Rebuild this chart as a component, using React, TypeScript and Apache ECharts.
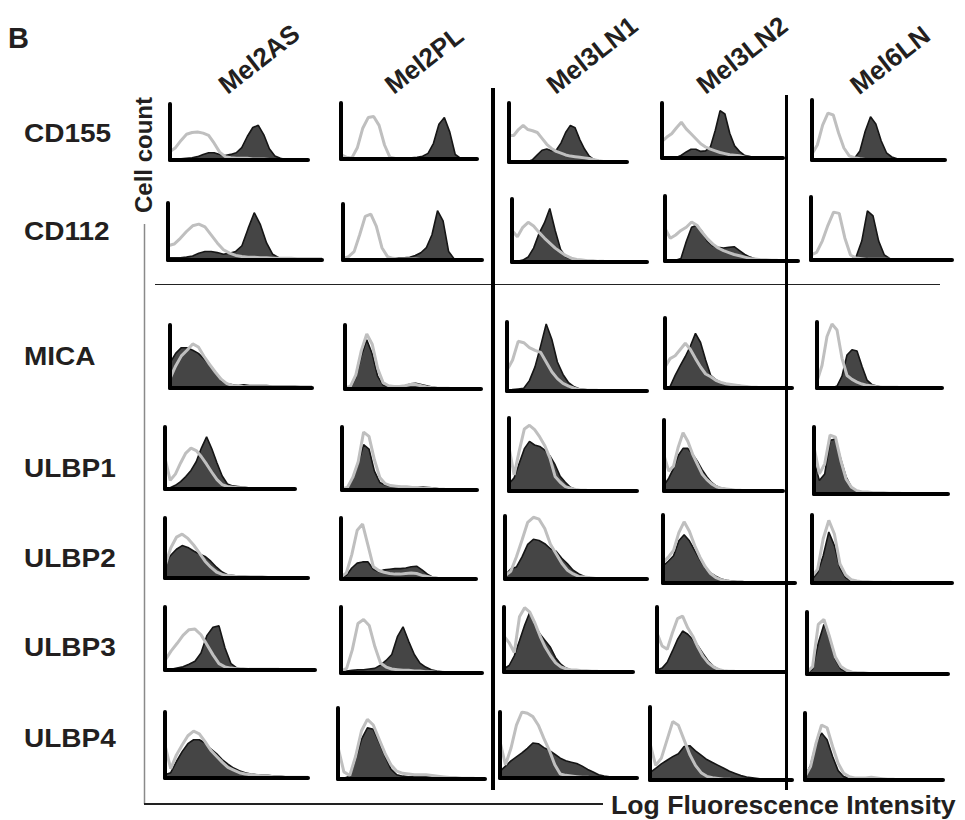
import React, { useEffect, useRef } from "react";
import * as echarts from "echarts";

// ---------- data ----------
const BINS = [0, 4, 8, 12, 16, 20, 24, 28, 32, 36, 40, 44, 48, 52, 56, 60, 64, 68, 72, 76, 80, 84, 88, 92, 96, 100];
const COLUMNS = ["Mel2AS", "Mel2PL", "Mel3LN1", "Mel3LN2", "Mel6LN"];
const MARKERS = ["CD155", "CD112", "MICA", "ULBP1", "ULBP2", "ULBP3", "ULBP4"];

// stained (filled) and isotype control (grey line) histograms, one per cell line
const CD155_FILL = [
  [2, 2, 2, 3, 4, 6, 10, 13, 13, 10, 8, 10, 13, 22, 42, 58, 62, 45, 20, 7, 3, 1, 0, 0, 0, 0],
  [0, 0, 0, 0, 0, 0, 0, 0, 0, 0, 0, 1, 1, 2, 3, 5, 10, 28, 62, 74, 48, 8, 1, 0, 0, 0],
  [0, 0, 0, 0, 1, 4, 12, 20, 22, 19, 20, 32, 50, 62, 58, 38, 22, 10, 4, 2, 1, 0, 0, 0, 0, 0],
  [0, 0, 0, 1, 5, 11, 16, 16, 12, 13, 20, 50, 86, 80, 45, 22, 12, 5, 3, 1, 0, 0, 0, 0, 0, 0],
  [0, 0, 0, 0, 0, 0, 0, 1, 3, 15, 48, 72, 60, 32, 12, 5, 2, 1, 0, 0, 0, 0, 0, 0, 0, 0],
];
const CD155_CTRL = [
  [15, 22, 35, 46, 49, 50, 48, 44, 30, 14, 6, 4, 3, 3, 3, 2, 2, 2, 1, 1, 0, 0, 0, 0, 0, 0],
  [8, 3, 2, 20, 55, 74, 76, 60, 25, 3, 1, 0, 0, 0, 0, 0, 0, 0, 0, 0, 0, 0, 0, 0, 0, 0],
  [45, 45, 55, 62, 55, 53, 50, 40, 30, 23, 18, 15, 12, 10, 9, 8, 7, 6, 4, 2, 1, 0, 0, 0, 0, 0],
  [30, 38, 44, 55, 65, 53, 44, 35, 26, 20, 16, 13, 10, 8, 6, 5, 4, 2, 1, 1, 0, 0, 0, 0, 0, 0],
  [10, 25, 58, 78, 75, 45, 20, 7, 4, 2, 1, 1, 1, 1, 1, 1, 0, 0, 0, 0, 0, 0, 0, 0, 0, 0],
];
const CD112_FILL = [
  [4, 4, 4, 5, 7, 12, 15, 15, 13, 10, 12, 15, 25, 55, 83, 62, 30, 10, 4, 2, 1, 1, 1, 0, 0, 0],
  [0, 0, 0, 0, 0, 0, 0, 0, 1, 3, 4, 4, 5, 8, 13, 22, 45, 88, 70, 15, 2, 0, 0, 0, 0, 0],
  [0, 1, 3, 8, 22, 45, 62, 85, 50, 20, 8, 5, 3, 2, 2, 1, 1, 0, 0, 0, 0, 0, 0, 0, 0, 0],
  [0, 0, 1, 4, 30, 52, 55, 45, 30, 23, 21, 20, 21, 22, 16, 10, 6, 3, 2, 1, 1, 1, 1, 0, 0, 0],
  [0, 0, 0, 0, 0, 0, 0, 1, 5, 30, 78, 70, 30, 8, 2, 1, 0, 0, 0, 0, 0, 0, 0, 0, 0, 0],
];
const CD112_CTRL = [
  [25, 28, 38, 50, 60, 63, 58, 44, 30, 18, 12, 8, 6, 5, 5, 4, 4, 3, 3, 3, 3, 2, 2, 2, 2, 2],
  [3, 6, 15, 45, 78, 82, 60, 22, 6, 3, 2, 2, 2, 2, 1, 1, 0, 0, 0, 0, 0, 0, 0, 0, 0, 0],
  [50, 40, 55, 63, 57, 47, 38, 30, 22, 16, 10, 6, 4, 3, 2, 2, 1, 1, 0, 0, 0, 0, 0, 0, 0, 0],
  [50, 35, 40, 47, 52, 60, 55, 44, 34, 26, 20, 16, 13, 10, 8, 6, 4, 3, 2, 2, 1, 1, 0, 0, 0, 0],
  [8, 12, 30, 55, 76, 74, 35, 8, 3, 2, 1, 1, 1, 1, 1, 0, 0, 0, 0, 0, 0, 0, 0, 0, 0, 0],
];
const MICA_FILL = [
  [40, 55, 64, 64, 60, 55, 46, 37, 24, 12, 7, 5, 4, 5, 4, 4, 4, 4, 3, 3, 3, 3, 3, 2, 2, 2],
  [1, 2, 18, 52, 77, 55, 20, 6, 4, 3, 4, 5, 8, 9, 7, 5, 3, 2, 1, 1, 0, 0, 0, 0, 0, 0],
  [0, 2, 3, 4, 15, 35, 65, 97, 75, 42, 24, 12, 6, 3, 2, 1, 1, 0, 0, 0, 0, 0, 0, 0, 0, 0],
  [0, 2, 18, 32, 45, 60, 78, 65, 40, 18, 12, 8, 6, 5, 4, 3, 2, 1, 0, 0, 0, 0, 0, 0, 0, 0],
  [0, 0, 0, 0, 3, 18, 50, 58, 56, 33, 12, 5, 3, 1, 1, 0, 0, 0, 0, 0, 0, 0, 0, 0, 0, 0],
];
const MICA_CTRL = [
  [15, 35, 51, 60, 70, 65, 50, 37, 25, 14, 7, 4, 3, 2, 2, 2, 2, 2, 2, 2, 2, 2, 2, 2, 2, 2],
  [2, 4, 22, 60, 86, 70, 32, 10, 5, 4, 4, 5, 7, 7, 5, 3, 2, 1, 1, 1, 0, 0, 0, 0, 0, 0],
  [30, 45, 72, 70, 63, 59, 56, 42, 28, 18, 11, 7, 4, 2, 1, 1, 1, 0, 0, 0, 0, 0, 0, 0, 0, 0],
  [30, 42, 46, 55, 64, 55, 42, 30, 20, 16, 11, 8, 6, 5, 4, 3, 2, 1, 1, 0, 0, 0, 0, 0, 0, 0],
  [10, 34, 78, 97, 88, 45, 19, 13, 9, 6, 4, 3, 2, 1, 1, 1, 1, 0, 0, 0, 0, 0, 0, 0, 0, 0],
];
const ULBP1_FILL = [
  [0, 2, 6, 12, 20, 30, 44, 66, 84, 65, 42, 21, 8, 5, 4, 3, 2, 2, 1, 1, 1, 0, 0, 0, 0, 0],
  [1, 3, 18, 42, 72, 65, 30, 12, 8, 6, 5, 5, 4, 4, 5, 5, 4, 3, 2, 2, 2, 1, 1, 0, 0, 0],
  [10, 18, 38, 58, 68, 63, 61, 56, 48, 36, 20, 12, 5, 2, 1, 0, 0, 0, 0, 0, 0, 0, 0, 0, 0, 0],
  [8, 18, 32, 50, 60, 60, 52, 42, 30, 20, 12, 7, 4, 3, 2, 1, 0, 0, 0, 0, 0, 0, 0, 0, 0, 0],
  [50, 20, 30, 80, 82, 52, 25, 10, 4, 2, 1, 1, 1, 0, 0, 0, 0, 0, 0, 0, 0, 0, 0, 0, 0, 0],
];
const ULBP1_CTRL = [
  [50, 14, 24, 42, 58, 66, 62, 52, 40, 27, 15, 7, 4, 3, 2, 2, 1, 1, 1, 0, 0, 0, 0, 0, 0, 0],
  [2, 4, 20, 45, 92, 85, 48, 20, 10, 7, 6, 5, 5, 4, 4, 3, 3, 2, 1, 1, 0, 0, 0, 0, 0, 0],
  [60, 22, 55, 85, 90, 84, 74, 62, 45, 20, 12, 6, 4, 2, 1, 1, 0, 0, 0, 0, 0, 0, 0, 0, 0, 0],
  [50, 28, 35, 62, 82, 70, 52, 38, 24, 16, 10, 6, 4, 3, 2, 1, 1, 0, 0, 0, 0, 0, 0, 0, 0, 0],
  [70, 30, 45, 88, 85, 50, 22, 10, 5, 3, 3, 2, 2, 2, 1, 1, 1, 0, 0, 0, 0, 0, 0, 0, 0, 0],
];
const ULBP2_FILL = [
  [25, 38, 48, 54, 51, 45, 40, 36, 28, 18, 10, 5, 4, 3, 3, 2, 2, 2, 2, 2, 2, 2, 2, 2, 2, 2],
  [2, 6, 18, 26, 28, 28, 16, 12, 15, 16, 17, 17, 18, 20, 21, 15, 8, 3, 2, 1, 1, 0, 0, 0, 0, 0],
  [5, 16, 19, 35, 55, 63, 61, 56, 48, 44, 33, 24, 14, 8, 4, 2, 1, 0, 0, 0, 0, 0, 0, 0, 0, 0],
  [25, 32, 40, 62, 71, 62, 48, 34, 22, 15, 10, 6, 4, 3, 2, 2, 1, 1, 0, 0, 0, 0, 0, 0, 0, 0],
  [5, 15, 40, 75, 55, 22, 8, 3, 2, 1, 1, 1, 0, 0, 0, 0, 0, 0, 0, 0, 0, 0, 0, 0, 0, 0],
];
const ULBP2_CTRL = [
  [20, 50, 68, 73, 66, 55, 42, 28, 18, 10, 6, 4, 3, 2, 2, 2, 2, 2, 1, 1, 1, 1, 1, 1, 1, 1],
  [3, 10, 40, 80, 90, 55, 20, 14, 11, 9, 8, 8, 9, 10, 9, 6, 4, 2, 1, 1, 0, 0, 0, 0, 0, 0],
  [5, 12, 35, 62, 90, 98, 95, 80, 55, 40, 25, 14, 8, 4, 3, 2, 1, 0, 0, 0, 0, 0, 0, 0, 0, 0],
  [30, 38, 48, 74, 90, 76, 55, 38, 24, 14, 8, 5, 3, 2, 1, 1, 0, 0, 0, 0, 0, 0, 0, 0, 0, 0],
  [10, 20, 65, 92, 72, 28, 12, 5, 3, 2, 2, 1, 1, 1, 1, 0, 0, 0, 0, 0, 0, 0, 0, 0, 0, 0],
];
const ULBP3_FILL = [
  [0, 1, 3, 5, 9, 14, 27, 55, 68, 70, 35, 10, 3, 1, 0, 0, 0, 0, 0, 0, 0, 0, 0, 0, 0, 0],
  [1, 3, 4, 5, 5, 6, 7, 12, 19, 28, 55, 70, 48, 28, 15, 9, 5, 3, 2, 1, 0, 0, 0, 0, 0, 0],
  [5, 10, 25, 48, 72, 92, 72, 58, 48, 38, 22, 12, 6, 3, 2, 1, 1, 0, 0, 0, 0, 0, 0, 0, 0, 0],
  [3, 6, 15, 32, 50, 63, 58, 50, 40, 28, 17, 9, 4, 2, 1, 0, 0, 0, 0, 0, 0, 0, 0, 0, 0, 0],
  [2, 8, 50, 80, 58, 24, 8, 3, 1, 1, 0, 0, 0, 0, 0, 0, 0, 0, 0, 0, 0, 0, 0, 0, 0, 0],
];
const ULBP3_CTRL = [
  [15, 30, 42, 55, 64, 65, 56, 40, 24, 10, 5, 3, 2, 2, 1, 1, 1, 1, 1, 1, 0, 0, 0, 0, 0, 0],
  [3, 7, 35, 75, 81, 72, 40, 15, 9, 6, 5, 4, 4, 3, 3, 2, 2, 1, 1, 0, 0, 0, 0, 0, 0, 0],
  [55, 45, 30, 85, 99, 92, 75, 55, 38, 25, 14, 8, 5, 3, 3, 2, 2, 1, 1, 0, 0, 0, 0, 0, 0, 0],
  [60, 40, 35, 60, 82, 86, 68, 55, 38, 24, 14, 8, 4, 2, 1, 1, 0, 0, 0, 0, 0, 0, 0, 0, 0, 0],
  [3, 12, 80, 88, 60, 28, 12, 6, 3, 2, 2, 1, 1, 1, 0, 0, 0, 0, 0, 0, 0, 0, 0, 0, 0, 0],
];
const ULBP4_FILL = [
  [5, 8, 25, 40, 52, 58, 58, 53, 44, 37, 28, 21, 15, 11, 8, 6, 5, 4, 4, 3, 3, 2, 2, 1, 1, 1],
  [0, 1, 4, 28, 56, 72, 70, 52, 32, 14, 6, 4, 3, 3, 3, 3, 3, 2, 1, 1, 1, 0, 0, 0, 0, 0],
  [10, 18, 26, 32, 38, 45, 53, 52, 46, 42, 36, 30, 26, 24, 22, 18, 13, 9, 5, 3, 2, 1, 1, 0, 0, 0],
  [10, 16, 22, 27, 32, 36, 46, 47, 40, 34, 28, 24, 20, 16, 12, 9, 6, 4, 3, 2, 1, 1, 0, 0, 0, 0],
  [5, 22, 55, 70, 60, 35, 14, 5, 3, 2, 2, 2, 3, 3, 1, 1, 0, 0, 0, 0, 0, 0, 0, 0, 0, 0],
];
const ULBP4_CTRL = [
  [50, 14, 35, 50, 64, 71, 67, 55, 42, 33, 24, 16, 12, 8, 6, 5, 4, 3, 3, 2, 2, 1, 1, 1, 1, 1],
  [45, 10, 5, 32, 68, 84, 76, 56, 36, 20, 11, 8, 7, 6, 6, 6, 5, 4, 3, 2, 2, 1, 1, 1, 0, 0],
  [55, 20, 45, 80, 100, 98, 93, 80, 60, 42, 20, 6, 4, 3, 2, 1, 1, 0, 0, 0, 0, 0, 0, 0, 0, 0],
  [50, 20, 30, 55, 80, 75, 55, 35, 20, 10, 5, 3, 2, 1, 1, 0, 0, 0, 0, 0, 0, 0, 0, 0, 0, 0],
  [5, 20, 55, 82, 78, 50, 25, 10, 5, 3, 3, 3, 4, 3, 2, 1, 1, 0, 0, 0, 0, 0, 0, 0, 0, 0],
];

// ---------- layout (pixel boxes of each small histogram: left, top, right, bottom) ----------
const CELL_BOXES = [
  [[168, 104, 308, 162], [339, 103, 477, 161], [507, 103, 627, 164], [660, 103, 783, 160], [810, 100, 945, 162]],
  [[166, 203, 322, 262], [341, 204, 482, 262], [510, 199, 647, 264], [663, 196, 798, 263], [809, 197, 952, 262]],
  [[168, 325, 312, 390], [343, 325, 481, 391], [505, 322, 647, 393], [663, 318, 792, 390], [815, 322, 942, 390]],
  [[163, 427, 295, 491], [340, 427, 477, 492], [507, 418, 637, 493], [662, 420, 783, 493], [812, 427, 948, 496]],
  [[163, 518, 308, 580], [339, 518, 476, 581], [503, 516, 647, 581], [661, 515, 795, 585], [810, 515, 952, 585]],
  [[163, 607, 315, 672], [339, 607, 482, 675], [502, 607, 633, 674], [655, 607, 785, 674], [805, 612, 948, 676]],
  [[163, 712, 308, 780], [336, 708, 485, 781], [498, 712, 637, 780], [648, 707, 792, 782], [803, 713, 943, 782]],
];
const ROW_LABEL_Y = [134, 232, 357, 469, 559, 648, 739];
const HEADER_CENTERS = [[259, 59], [424, 60], [592, 55], [742, 55], [890, 60]];

const FONT = '"Liberation Sans", Arial, Helvetica, sans-serif';
const TEXT_COLOR = "#231f20";

export default function App() {
  const ref = useRef<HTMLDivElement>(null);

  useEffect(() => {
    if (!ref.current) return;
    const chart = echarts.init(ref.current, undefined, { renderer: "svg" });

    const fills = [CD155_FILL, CD112_FILL, MICA_FILL, ULBP1_FILL, ULBP2_FILL, ULBP3_FILL, ULBP4_FILL];
    const ctrls = [CD155_CTRL, CD112_CTRL, MICA_CTRL, ULBP1_CTRL, ULBP2_CTRL, ULBP3_CTRL, ULBP4_CTRL];

    const grids: any[] = [];
    const xAxes: any[] = [];
    const yAxes: any[] = [];
    const series: any[] = [];

    const axisBase = {
      type: "value",
      min: 0,
      max: 100,
      axisLine: { show: true, onZero: false, lineStyle: { color: "#000", width: 4 } },
      axisTick: { show: false },
      axisLabel: { show: false },
      splitLine: { show: false },
      z: 6,
    };

    MARKERS.forEach((_m, r) => {
      COLUMNS.forEach((_c, c) => {
        const idx = r * 5 + c;
        const [l, t, rt, b] = CELL_BOXES[r][c];
        grids.push({ left: l + 2, top: t, width: rt - l - 2, height: b - 2 - t, containLabel: false });
        xAxes.push({ ...axisBase, gridIndex: idx });
        yAxes.push({ ...axisBase, gridIndex: idx });
        series.push({
          type: "line",
          xAxisIndex: idx,
          yAxisIndex: idx,
          data: BINS.map((x, k) => [x, fills[r][c][k]]),
          symbol: "none",
          showSymbol: false,
          silent: true,
          lineStyle: { color: "#151515", width: 1.6 },
          areaStyle: { color: "#454545", opacity: 1 },
          z: 2,
        });
        series.push({
          type: "line",
          xAxisIndex: idx,
          yAxisIndex: idx,
          data: BINS.map((x, k) => [x, ctrls[r][c][k]]),
          symbol: "none",
          showSymbol: false,
          silent: true,
          lineStyle: { color: "#bfbfbf", width: 3 },
          z: 3,
        });
      });
    });

    const graphics: any[] = [];
    graphics.push({
      type: "text",
      x: 8,
      y: 38,
      style: { text: "B", font: `bold 29px ${FONT}`, fill: TEXT_COLOR, align: "left", verticalAlign: "middle" },
    });
    COLUMNS.forEach((name, c) => {
      graphics.push({
        type: "text",
        x: HEADER_CENTERS[c][0],
        y: HEADER_CENTERS[c][1],
        rotation: (38 * Math.PI) / 180,
        style: { text: name, font: `bold 26px ${FONT}`, fill: TEXT_COLOR, align: "center", verticalAlign: "middle" },
      });
    });
    MARKERS.forEach((name, r) => {
      graphics.push({
        type: "text",
        x: 24,
        y: ROW_LABEL_Y[r],
        scaleX: 1.12,
        style: { text: name, font: `bold 25px ${FONT}`, fill: TEXT_COLOR, align: "left", verticalAlign: "middle" },
      });
    });
    graphics.push({
      type: "text",
      x: 143,
      y: 155,
      rotation: Math.PI / 2,
      style: { text: "Cell count", font: `bold 24px ${FONT}`, fill: TEXT_COLOR, align: "center", verticalAlign: "middle" },
    });
    graphics.push({
      type: "text",
      x: 611,
      y: 805,
      scaleX: 1.065,
      style: {
        text: "Log Fluorescence Intensity",
        font: `bold 25px ${FONT}`,
        fill: TEXT_COLOR,
        align: "left",
        verticalAlign: "middle",
      },
    });
    // frame lines
    graphics.push({ type: "line", shape: { x1: 144.5, y1: 224, x2: 144.5, y2: 804 }, style: { stroke: "#8a8a8a", lineWidth: 1.5 } });
    graphics.push({ type: "line", shape: { x1: 144, y1: 804, x2: 603, y2: 804 }, style: { stroke: "#222", lineWidth: 2 } });
    graphics.push({ type: "line", shape: { x1: 155, y1: 284.5, x2: 940, y2: 284.5 }, style: { stroke: "#222", lineWidth: 1 } });
    graphics.push({ type: "line", shape: { x1: 493, y1: 88, x2: 493, y2: 790 }, style: { stroke: "#000", lineWidth: 4 } });
    graphics.push({ type: "line", shape: { x1: 786.5, y1: 95, x2: 786.5, y2: 790 }, style: { stroke: "#000", lineWidth: 3 } });

    chart.setOption({
      animation: false,
      backgroundColor: "#fff",
      grid: grids,
      xAxis: xAxes,
      yAxis: yAxes,
      series,
      graphic: { elements: graphics },
    });

    return () => chart.dispose();
  }, []);

  return <div ref={ref} style={{ position: "absolute", left: 0, top: 0, width: 965, height: 820 }} />;
}
